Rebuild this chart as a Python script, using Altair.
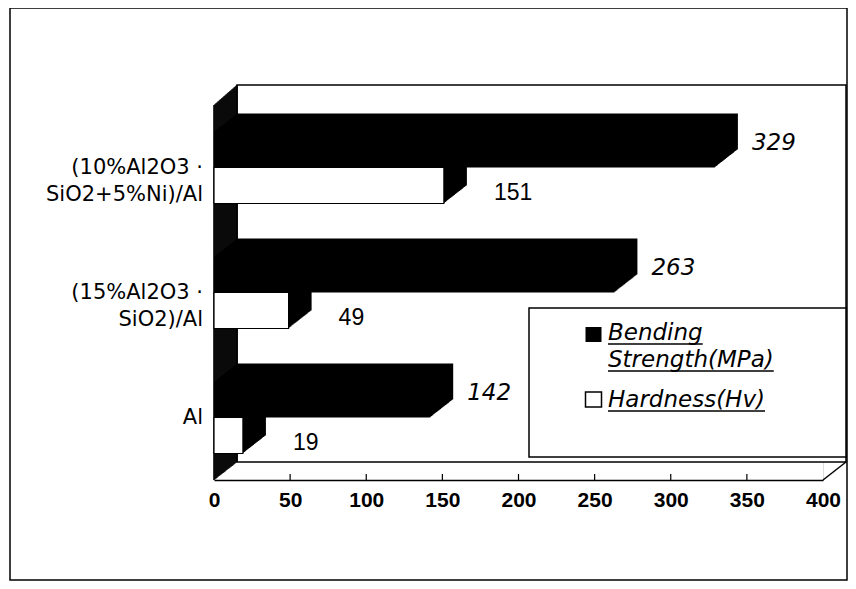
import altair as alt
import pandas as pd

# ---------------- data ----------------
categories = ["(10%Al2O3 ·\nSiO2+5%Ni)/Al", "(15%Al2O3 ·\nSiO2)/Al", "Al"]
series = ["Bending Strength(MPa)", "Hardness(Hv)"]
bending = [329, 263, 142]
hardness = [151, 49, 19]
x_ticks = [0, 50, 100, 150, 200, 250, 300, 350, 400]
inner_ticks = [50, 100, 150, 200, 250, 300, 350]

# ---------------- layout / style ----------------
W, H = 609, 375          # front plot area
DX, DY = 23, 18          # 3-D depth vector (right, up)
BAR = 36 / 125           # bar thickness as fraction of one category step
STEPS = 23               # extrusion steps

rows = []
for i, c in enumerate(categories):
    mid = i + 0.5
    rows.append(dict(cat=c, series=series[0], value=bending[i], start=0,
                     y1=mid - BAR, y2=mid, ymid=mid - BAR / 2))
    rows.append(dict(cat=c, series=series[1], value=hardness[i], start=0,
                     y1=mid, y2=mid + BAR, ymid=mid + BAR / 2))
df = pd.DataFrame(rows)
df_b = df[df.series == series[0]]
df_h = df[df.series == series[1]]
df_cat = pd.DataFrame({"cat": categories, "mid": [i + 0.5 for i in range(len(categories))]})
df_ticks = pd.DataFrame({"t": inner_ticks})
one = pd.DataFrame({"d": [0]})

xs = alt.Scale(domain=[0, 400], nice=False, zero=True)
ys = alt.Scale(domain=[0, 3], reverse=True, nice=False, zero=False)
xaxis = alt.Axis(values=x_ticks, title=None, grid=False, ticks=False,
                 domainColor="black", domainWidth=1.5,
                 labelFont="Liberation Sans", labelFontSize=21, labelFontWeight="bold",
                 labelColor="black", labelPadding=9, labelFlush=False, labelOverlap=False)


def bar_layer(data, **mark):
    return alt.Chart(data).mark_rect(**mark).encode(
        x=alt.X("start:Q", scale=xs, axis=xaxis),
        x2="value:Q",
        y=alt.Y("y1:Q", scale=ys, axis=None),
        y2="y2:Q",
    )


def box(x1, x2, y1, y2, **mark):
    return alt.Chart(one).mark_rect(**mark).encode(
        x=alt.value(x1), x2=alt.value(x2), y=alt.value(y1), y2=alt.value(y2))


layers = []

# outer frame
layers.append(box(-204, 633, -97, 475, fillOpacity=0, stroke="black", strokeWidth=1.5))
# back wall
layers.append(box(DX, W + DX, -DY - 2, H - DY, fill="white", stroke="black", strokeWidth=1.5))
# left wall (black) drawn as a stack of rules
for k in range(DX + 1):
    oy = k * DY / DX
    layers.append(alt.Chart(one).mark_rule(color="black", strokeWidth=1.6).encode(
        x=alt.value(k), y=alt.value(-oy - 2 * k / DX), y2=alt.value(H - oy)))
# floor right diagonal
layers.append(alt.Chart(one).mark_rule(color="black", strokeWidth=1.5).encode(
    x=alt.value(W), x2=alt.value(W + DX), y=alt.value(H), y2=alt.value(H - DY)))
# small ticks on the floor front edge
layers.append(alt.Chart(df_ticks).mark_rule(color="black", strokeWidth=1.2).encode(
    x=alt.X("t:Q", scale=xs, axis=xaxis), y=alt.value(H - 6), y2=alt.value(H)))

# bar extrusion (side + top faces)
for k in range(STEPS, 0, -1):
    ox = k * DX / STEPS
    oy = -k * DY / STEPS
    layers.append(bar_layer(df, color="black", xOffset=ox, x2Offset=ox,
                            yOffset=oy, y2Offset=oy))

# front faces
layers.append(bar_layer(df_b, color="black"))
layers.append(bar_layer(df_h, fill="white", stroke="black", strokeWidth=1.2))

# value labels
layers.append(alt.Chart(df_b).mark_text(
    align="left", baseline="middle", dx=DX + 14, dy=-7, font="DejaVu Sans",
    fontStyle="italic", fontSize=23, color="black").encode(
    x=alt.X("value:Q", scale=xs, axis=xaxis), y=alt.Y("ymid:Q", scale=ys, axis=None),
    text="value:Q"))
layers.append(alt.Chart(df_h).mark_text(
    align="left", baseline="middle", dx=50, dy=7, font="Liberation Sans",
    fontSize=23, color="black").encode(
    x=alt.X("value:Q", scale=xs, axis=xaxis), y=alt.Y("ymid:Q", scale=ys, axis=None),
    text="value:Q"))

# category labels
layers.append(alt.Chart(df_cat).mark_text(
    align="right", baseline="middle", dx=-11, font="DejaVu Sans", fontSize=21,
    lineBreak="\n", lineHeight=27, color="black").encode(
    x=alt.value(0), y=alt.Y("mid:Q", scale=ys, axis=None), text="cat:N"))

# legend
LF = 23
layers.append(box(315, W + DX, 203, 352, fill="white", stroke="black", strokeWidth=1.5))
layers.append(box(371.5, 387.5, 222, 237, fill="black"))
layers.append(box(371.5, 387.5, 287, 302, fill="white", stroke="black", strokeWidth=1.5))
leg = pd.DataFrame({"s": series})
layers.append(alt.Chart(leg.iloc[[0]]).mark_text(
    align="left", baseline="alphabetic", font="DejaVu Sans", fontStyle="italic",
    fontSize=LF, lineBreak=" ", lineHeight=27, color="black").encode(
    x=alt.value(394), y=alt.value(235), text="s:N"))
layers.append(alt.Chart(leg.iloc[[1]]).mark_text(
    align="left", baseline="alphabetic", font="DejaVu Sans", fontStyle="italic",
    fontSize=LF, color="black").encode(
    x=alt.value(394), y=alt.value(302), text="s:N"))
for yb, em in [(235, 4.117), (262, 7.207), (302, 6.826)]:
    layers.append(alt.Chart(one).mark_rule(color="black", strokeWidth=1.4).encode(
        x=alt.value(394), x2=alt.value(394 + em * LF), y=alt.value(yb + 4)))

chart = alt.layer(*layers).properties(
    width=W, height=H,
    padding={"left": 206, "top": 97, "right": 25, "bottom": 101},
    autosize=alt.AutoSizeParams(type="none"),
).configure_view(stroke=None).configure(background="white")

chart.save("out.html", embed_options={"renderer": "svg", "actions": False})
